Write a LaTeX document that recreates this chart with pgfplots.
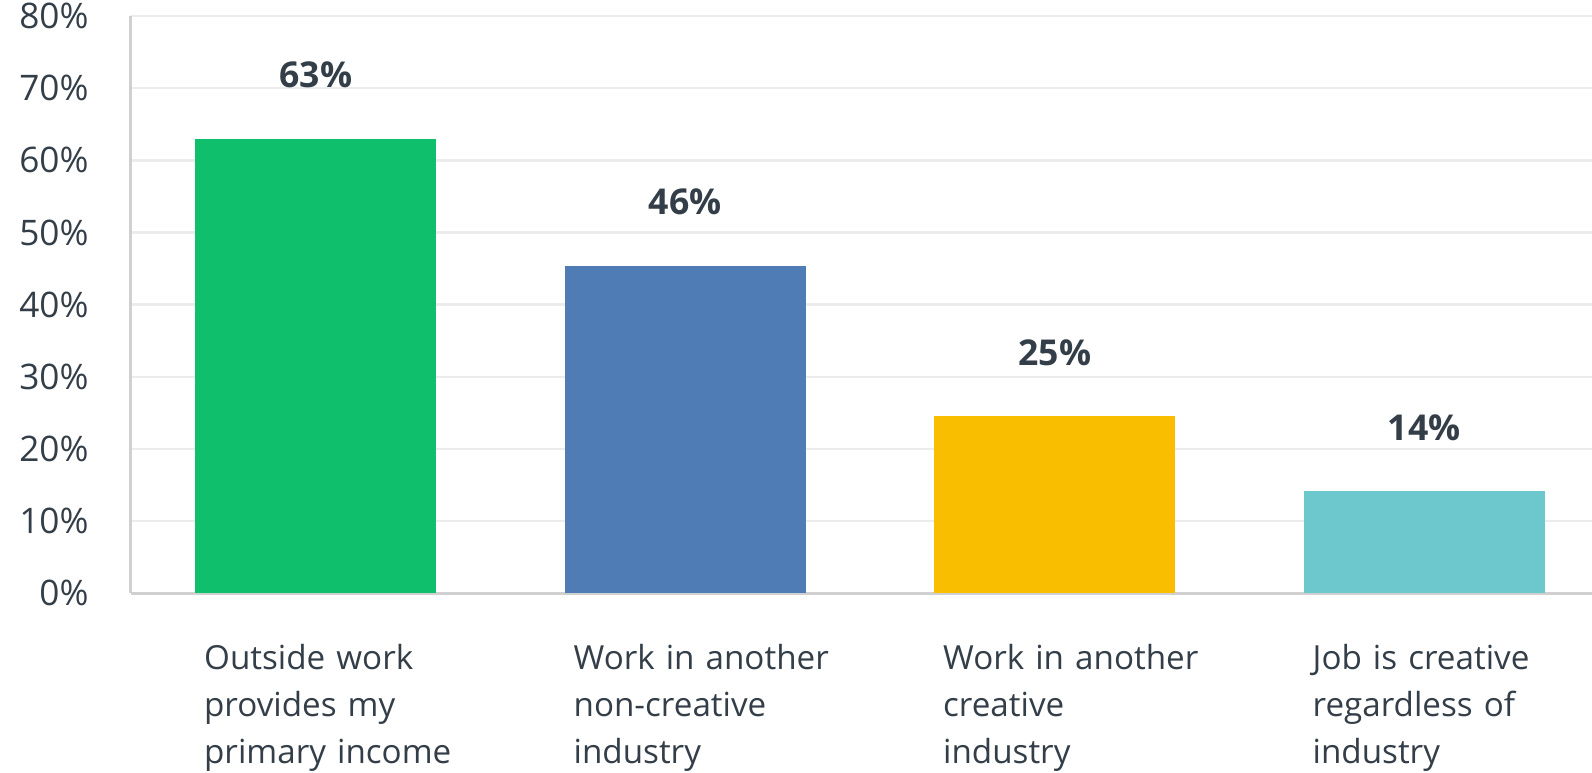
\documentclass[border=0pt]{standalone}
\usepackage{pgfplots}
\pgfplotsset{compat=1.18}
\usepackage{fontspec}
\setmainfont{Open Sans}
\usetikzlibrary{calc}
\definecolor{txt}{HTML}{333E48}
\definecolor{gridc}{HTML}{ECECEC}
\definecolor{axc}{HTML}{D0D0D0}
\definecolor{cgreen}{HTML}{10BF6C}
\definecolor{cblue}{HTML}{507CB5}
\definecolor{cyellow}{HTML}{F9BE00}
\definecolor{cteal}{HTML}{6CC8CC}
\begin{document}
\begin{tikzpicture}
\begin{axis}[
  width=730.5pt, height=288.6pt, scale only axis,
  xmin=-0.5, xmax=3.454, ymin=0, ymax=80,
  ytick={0,10,...,80},
  yticklabel={\pgfmathprintnumber{\tick}\%},
  /pgf/number format/assume math mode=true,
  yticklabel style={font=\fontsize{17.6}{20}\selectfont, text=txt, inner sep=0pt, anchor=east, xshift=-21pt},
  xtick={0,1,2,3},
  xticklabels={{Outside work\\provides my\\primary income},{Work in another\\non-creative\\industry},{Work in another\\creative\\industry},{Job is creative\\regardless of\\industry}},
  xticklabel style={font=\fontsize{16.6}{23.5}\selectfont, text=txt, inner sep=0pt, align=left, text width=150pt, anchor=north west, xshift=-56pt, yshift=-25.5pt},
  ymajorgrids, grid style={draw=gridc, line width=1.2pt},
  major tick length=0pt,
  axis lines=left,
  axis line style={-, draw=axc, line width=1.5pt},
  ybar, bar width=120.5pt,
  nodes near coords,
  point meta=explicit symbolic,
  every node near coord/.append style={font=\bfseries\fontsize{17.8}{20}\selectfont, text=txt, inner sep=0pt, anchor=south, yshift=25pt},
  clip=false,
]
\addplot[bar shift=0pt, fill=cgreen, draw=none] coordinates {(0,63.0) [63\%]};
\addplot[bar shift=0pt, fill=cblue, draw=none] coordinates {(1,45.4) [46\%]};
\addplot[bar shift=0pt, fill=cyellow, draw=none] coordinates {(2,24.5) [25\%]};
\addplot[bar shift=0pt, fill=cteal, draw=none] coordinates {(3,14.1) [14\%]};
\end{axis}
\pgfresetboundingbox
\path ($(current axis.south west)+(-65.5pt,-89.5pt)$) rectangle ($(current axis.north east)+(0,8pt)$);
\end{tikzpicture}
\end{document}
